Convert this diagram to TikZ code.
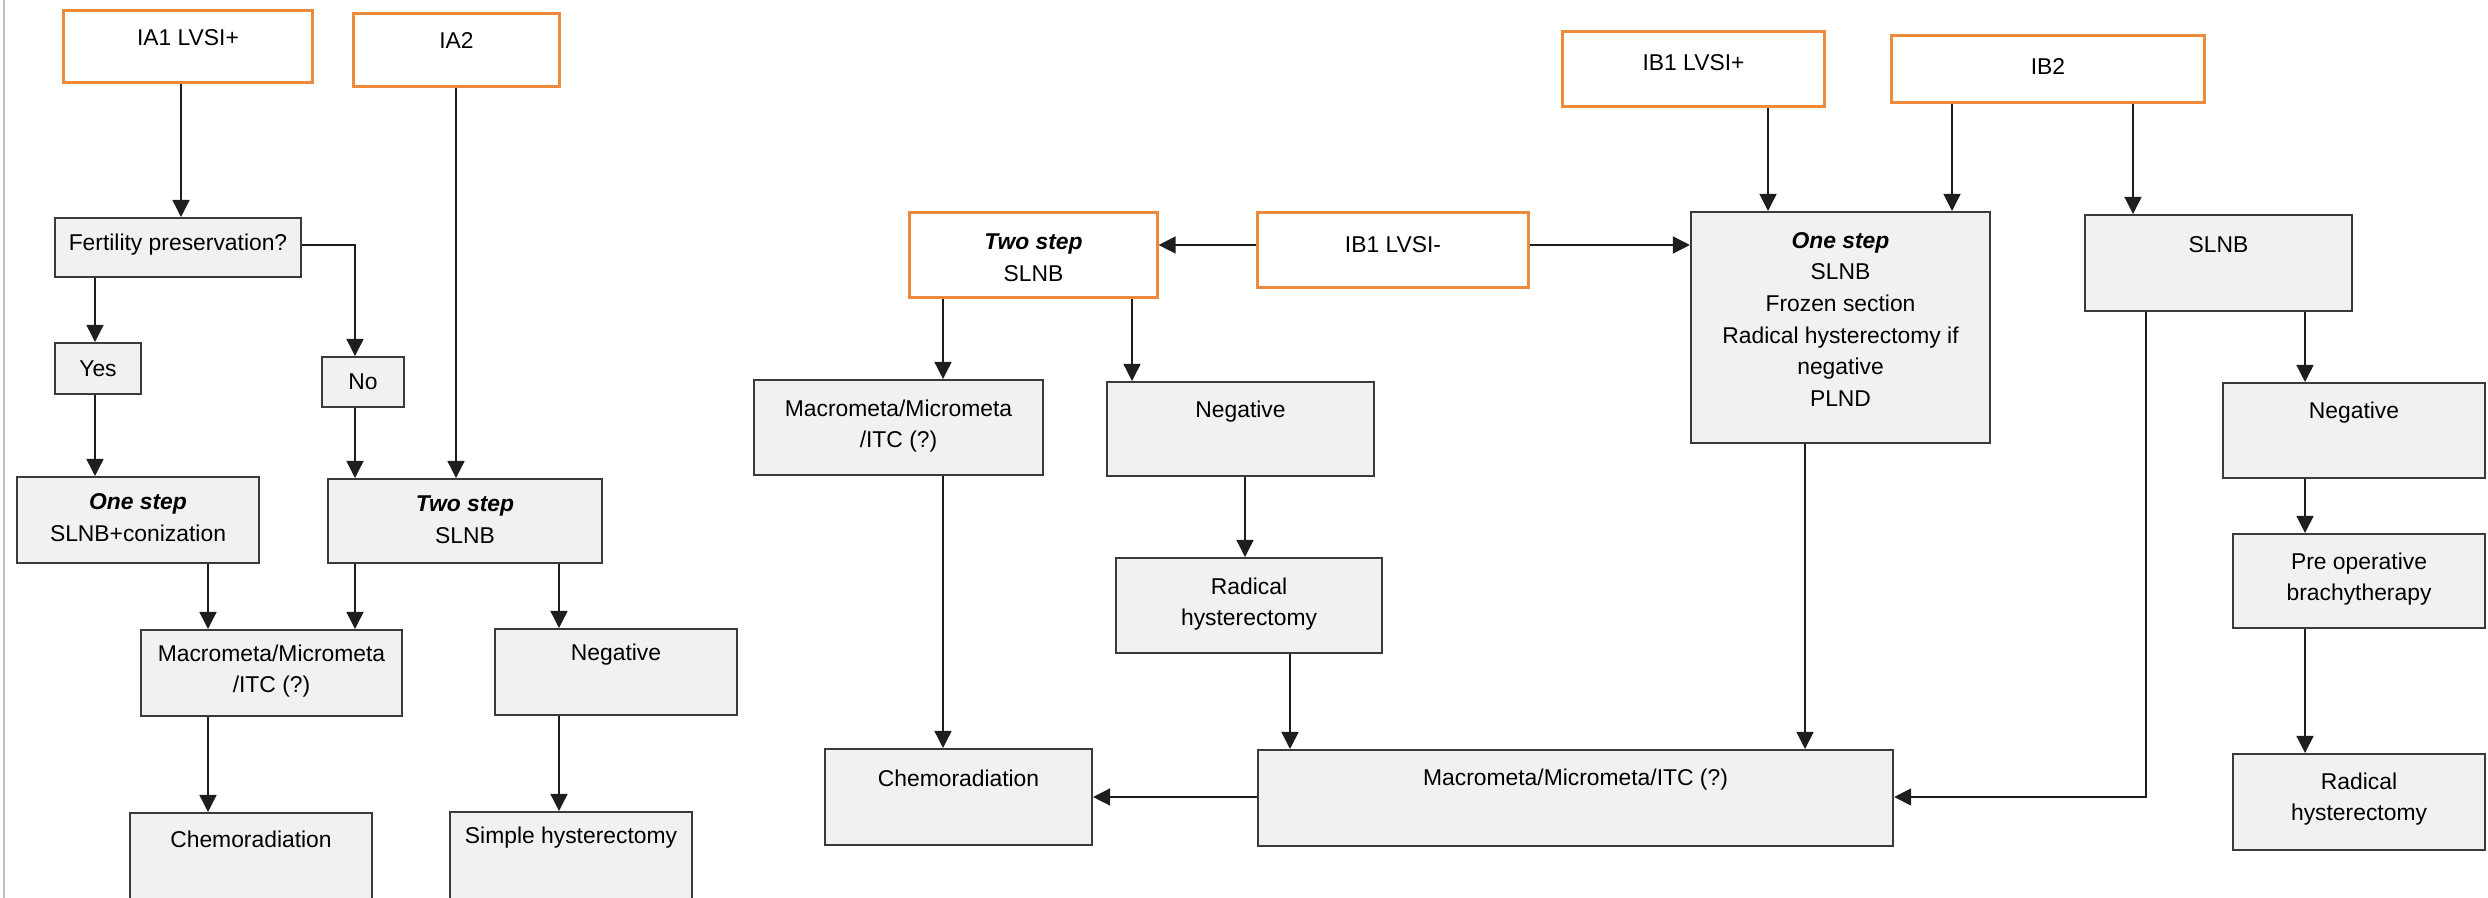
\documentclass[tikz,border=0pt]{standalone}
\usepackage{fontspec}
\setmainfont{Liberation Sans}
\usetikzlibrary{arrows.meta,calc}
\definecolor{orangeC}{HTML}{EE8A3C}
\definecolor{boxfill}{HTML}{F1F1F1}
\definecolor{boxline}{HTML}{3A3A3A}
\definecolor{lineC}{HTML}{1E1E1E}
\begin{document}
\begin{tikzpicture}[x=0.01cm,y=-0.01cm,
  obox/.style={draw=orangeC, line width=0.85pt, fill=white, inner sep=0pt},
  gbox/.style={draw=boxline, line width=0.55pt, fill=boxfill, inner sep=0pt},
  txt/.style={font=\fontsize{6.5}{9}\selectfont, align=center, inner sep=0pt, text=black},
  arr/.style={draw=lineC, line width=0.4pt, -{Triangle[length=0.17cm,width=0.17cm]}},
  ln/.style={draw=lineC, line width=0.4pt}]
\useasboundingbox (0,0) rectangle (2488,898);
\clip (0,0) rectangle (2488,898);
\draw[black!25, line width=0.6pt] (4,0) -- (4,898);

% ---------- left part ----------
\node[obox, minimum width=2.48cm, minimum height=0.71cm] (ia1) at (188,46.5) {};
\node[txt] (ia1t) at (188,38) {IA1 LVSI+};
\node[obox, minimum width=2.05cm, minimum height=0.72cm] (ia2) at (456.5,50) {};
\node[txt] (ia2t) at (456.5,41) {IA2};
\node[gbox, minimum width=2.46cm, minimum height=0.59cm] (fert) at (178,247.5) {};
\node[txt] (fertt) at (178,245) {Fertility preservation?};
\node[gbox, minimum width=0.86cm, minimum height=0.51cm] (yes) at (98,368.5) {};
\node[txt] (yest) at (98,369) {Yes};
\node[gbox, minimum width=0.82cm, minimum height=0.50cm] (no) at (363,382) {};
\node[txt] (not) at (363,382) {No};
\node[gbox, minimum width=2.42cm, minimum height=0.86cm] (one1) at (138,520) {};
\node[txt] (one1t) at (138,517.5) {\textbf{\textit{One step}}\\SLNB+conization};
\node[gbox, minimum width=2.74cm, minimum height=0.84cm] (two1) at (465,521) {};
\node[txt] (two1t) at (465,520) {\textbf{\textit{Two step}}\\SLNB};
\node[gbox, minimum width=2.61cm, minimum height=0.86cm] (mac1) at (271.5,673) {};
\node[txt] (mac1t) at (271.5,671) {Macrometa/Micrometa\\/ITC (?)};
\node[gbox, minimum width=2.42cm, minimum height=0.86cm] (neg1) at (616,672) {};
\node[txt] (neg1t) at (616,655) {Negative};
\node[gbox, minimum width=2.42cm, minimum height=1.02cm] (chemo1) at (251,864) {};
\node[txt] (chemo1t) at (251,839) {Chemoradiation};
\node[gbox, minimum width=2.42cm, minimum height=1.03cm] (simp) at (571,863.5) {};
\node[txt] (simpt) at (571,838) {Simple hysterectomy};

% ---------- middle part ----------
\node[obox, minimum width=2.47cm, minimum height=0.84cm] (two2) at (1033.5,255) {};
\node[txt] (two2t) at (1033.5,258) {\textbf{\textit{Two step}}\\SLNB};
\node[obox, minimum width=2.70cm, minimum height=0.74cm] (ib1m) at (1393,250) {};
\node[txt] (ib1mt) at (1393,245) {IB1 LVSI-};
\node[gbox, minimum width=2.89cm, minimum height=0.95cm] (mac2) at (898.5,427.5) {};
\node[txt] (mac2t) at (898.5,426) {Macrometa/Micrometa\\/ITC (?)};
\node[gbox, minimum width=2.67cm, minimum height=0.94cm] (neg2) at (1240.5,429) {};
\node[txt] (neg2t) at (1240.5,412) {Negative};
\node[gbox, minimum width=2.66cm, minimum height=0.95cm] (rad2) at (1249,605.5) {};
\node[txt] (rad2t) at (1249,604) {Radical\\hysterectomy};
\node[gbox, minimum width=2.67cm, minimum height=0.96cm] (chemo2) at (958.5,797) {};
\node[txt] (chemo2t) at (958.5,778) {Chemoradiation};
\node[gbox, minimum width=6.35cm, minimum height=0.96cm] (mac3) at (1575.5,798) {};
\node[txt] (mac3t) at (1575.5,780) {Macrometa/Micrometa/ITC (?)};

% ---------- right part ----------
\node[obox, minimum width=2.61cm, minimum height=0.74cm] (ib1p) at (1693.5,69) {};
\node[txt] (ib1pt) at (1693.5,63) {IB1 LVSI+};
\node[obox, minimum width=3.12cm, minimum height=0.66cm] (ib2) at (2048,69) {};
\node[txt] (ib2t) at (2048,67) {IB2};
\node[gbox, minimum width=2.99cm, minimum height=2.31cm] (one2) at (1840.5,327.5) {};
\node[txt] (one2t) at (1840.5,319.5) {\textbf{\textit{One step}}\\SLNB\\Frozen section\\Radical hysterectomy if\\negative\\PLND};
\node[gbox, minimum width=2.67cm, minimum height=0.96cm] (slnb) at (2218.5,263) {};
\node[txt] (slnbt) at (2218.5,245) {SLNB};
\node[gbox, minimum width=2.62cm, minimum height=0.95cm] (neg3) at (2354,430.5) {};
\node[txt] (neg3t) at (2354,413) {Negative};
\node[gbox, minimum width=2.52cm, minimum height=0.94cm] (pre) at (2359,581) {};
\node[txt] (pret) at (2359,579) {Pre operative\\brachytherapy};
\node[gbox, minimum width=2.52cm, minimum height=0.96cm] (rad3) at (2359,802) {};
\node[txt] (rad3t) at (2359,799) {Radical\\hysterectomy};

% ---------- connectors: left ----------
\draw[arr] (ia1.south -| 181,0) -- (fert.north -| 181,0);
\draw[arr] (fert.east |- 0,245) -| (no.north -| 355,0);
\draw[arr] (fert.south -| 95,0) -- (yes.north -| 95,0);
\draw[arr] (ia2.south -| 456,0) -- (two1.north -| 456,0);
\draw[arr] (yes.south -| 95,0) -- (one1.north -| 95,0);
\draw[arr] (no.south -| 355,0) -- (two1.north -| 355,0);
\draw[arr] (one1.south -| 208,0) -- (mac1.north -| 208,0);
\draw[arr] (two1.south -| 355,0) -- (mac1.north -| 355,0);
\draw[arr] (two1.south -| 559,0) -- (neg1.north -| 559,0);
\draw[arr] (mac1.south -| 208,0) -- (chemo1.north -| 208,0);
\draw[arr] (neg1.south -| 559,0) -- (simp.north -| 559,0);

% ---------- connectors: middle ----------
\draw[arr] (ib1m.west |- 0,245) -- (two2.east |- 0,245);
\draw[arr] (ib1m.east |- 0,245) -- (one2.west |- 0,245);
\draw[arr] (two2.south -| 943,0) -- (mac2.north -| 943,0);
\draw[arr] (two2.south -| 1132,0) -- (neg2.north -| 1132,0);
\draw[arr] (neg2.south -| 1245,0) -- (rad2.north -| 1245,0);
\draw[arr] (mac2.south -| 943,0) -- (chemo2.north -| 943,0);
\draw[arr] (rad2.south -| 1290,0) -- (mac3.north -| 1290,0);
\draw[arr] (one2.south -| 1805,0) -- (mac3.north -| 1805,0);
\draw[arr] (mac3.west |- 0,797) -- (chemo2.east |- 0,797);

% ---------- connectors: right ----------
\draw[arr] (ib1p.south -| 1768,0) -- (one2.north -| 1768,0);
\draw[arr] (ib2.south -| 1952,0) -- (one2.north -| 1952,0);
\draw[arr] (ib2.south -| 2133,0) -- (slnb.north -| 2133,0);
\draw[arr] (slnb.south -| 2146,0) |- (mac3.east |- 0,797);
\draw[arr] (slnb.south -| 2305,0) -- (neg3.north -| 2305,0);
\draw[arr] (neg3.south -| 2305,0) -- (pre.north -| 2305,0);
\draw[arr] (pre.south -| 2305,0) -- (rad3.north -| 2305,0);
\end{tikzpicture}
\end{document}
